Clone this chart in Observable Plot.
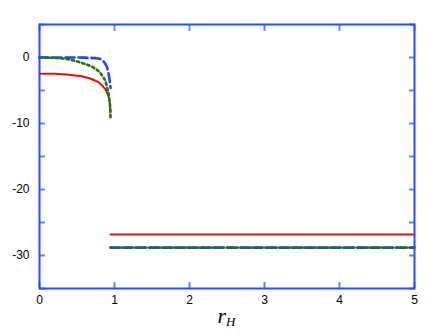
<!DOCTYPE html>
<html>
<head>
<meta charset="utf-8">
<script src="https://cdn.jsdelivr.net/npm/d3@7"></script>
<script src="https://cdn.jsdelivr.net/npm/@observablehq/plot@0.6"></script>
<style>
  html, body { margin: 0; padding: 0; background: #fff; }
</style>
</head>
<body>
<div id="chart"></div>
<script>
// near-horizon branch (r_H < ~0.95)
const rCurve = [0, 0.1, 0.2, 0.3, 0.4, 0.5, 0.6, 0.7, 0.75, 0.8, 0.85, 0.88, 0.9, 0.92, 0.93, 0.94, 0.947];
const redCurve = [-2.45, -2.46, -2.48, -2.52, -2.6, -2.75, -2.95, -3.3, -3.55, -3.85, -4.45, -4.85, -5.3, -5.9, -6.4, -7.2, -8.3];
const blueCurve = [0, 0, 0, 0, 0, 0, -0.02, -0.06, -0.1, -0.18, -0.55, -1.0, -1.5, -2.4, -3.1, -3.9, -4.6];
const greenCurve = [0, -0.02, -0.06, -0.15, -0.3, -0.6, -0.95, -1.4, -1.75, -2.2, -3.0, -3.6, -4.5, -5.4, -6.2, -7.3, -9.1];
// large r_H branch (constant)
const rFlat = [0.947, 5];
const redFlat = [-26.8, -26.8];
const blueFlat = [-28.8, -28.8];
const greenFlat = [-28.8, -28.8];
// ticks
const xTicks = [0, 1, 2, 3, 4, 5];
const yTickMarks = [-35, -30, -25, -20, -15, -10, -5, 0, 5];
const yTickLabels = [-30, -20, -10, 0];

const AX = "#2b4cff";
const RED = "#e01010";
const BLUE = "#1f46ff";
const GREEN = "#2a6e12";

const mk = (xs, ys) => xs.map((x, i) => ({x, y: ys[i]}));
const fmt = d => String(d);

const plot = Plot.plot({
  width: 437,
  height: 336,
  marginLeft: 39,
  marginRight: 23,
  marginTop: 24,
  marginBottom: 48,
  style: {fontFamily: "'Liberation Sans', Arial, sans-serif", fontSize: "12px", color: "#000", background: "#fff"},
  x: {domain: [0, 5], label: null},
  y: {domain: [-35, 5], label: null},
  marks: [
    // blue dashed
    Plot.line(mk(rCurve, blueCurve), {x: "x", y: "y", stroke: BLUE, strokeWidth: 2.6, strokeDasharray: "9,4", curve: "monotone-x"}),
    Plot.line(mk(rFlat, blueFlat), {x: "x", y: "y", stroke: BLUE, strokeWidth: 2.6, strokeDasharray: "9,4"}),
    // red solid
    Plot.line(mk(rCurve, redCurve), {x: "x", y: "y", stroke: RED, strokeWidth: 2, curve: "monotone-x"}),
    Plot.line(mk(rFlat, redFlat), {x: "x", y: "y", stroke: RED, strokeWidth: 2}),
    // green dotted / dash-dot
    Plot.line(mk(rCurve, greenCurve), {x: "x", y: "y", stroke: GREEN, strokeWidth: 2.6, strokeDasharray: "2.4,3", curve: "monotone-x"}),
    Plot.line(mk(rFlat, greenFlat), {x: "x", y: "y", stroke: GREEN, strokeWidth: 2.4, strokeDasharray: "7,2.5,2.5,2.5"}),
    // frame
    Plot.frame({stroke: AX, strokeWidth: 2}),
    // inward ticks
    Plot.axisX(xTicks, {anchor: "bottom", tickSize: 6, dy: -6, fill: "none", stroke: AX, strokeWidth: 2, strokeOpacity: 0.7}),
    Plot.axisX(xTicks, {anchor: "top", tickSize: 6, dy: 6, fill: "none", stroke: AX, strokeWidth: 2, strokeOpacity: 0.7}),
    Plot.axisY(yTickMarks, {anchor: "left", tickSize: 6, dx: 6, fill: "none", stroke: AX, strokeWidth: 2, strokeOpacity: 0.7}),
    Plot.axisY(yTickMarks, {anchor: "right", tickSize: 6, dx: -6, fill: "none", stroke: AX, strokeWidth: 2, strokeOpacity: 0.7}),
    // labels
    Plot.axisX(xTicks, {anchor: "bottom", tickSize: 0, tickPadding: 7, fill: "#000", label: null, tickFormat: fmt}),
    Plot.axisY(yTickLabels, {anchor: "left", tickSize: 0, tickPadding: 10, fill: "#000", label: null, tickFormat: fmt})
  ]
});

document.getElementById("chart").appendChild(plot);

// axis title r_H (italic serif with subscript)
const svg = d3.select(plot);
const t = svg.append("text")
  .attr("x", 226.5)
  .attr("y", 323)
  .attr("text-anchor", "middle")
  .attr("font-family", "'Liberation Serif', 'DejaVu Serif', serif")
  .attr("font-style", "italic")
  .attr("fill", "#000");
t.append("tspan").attr("font-size", "22px").text("r");
t.append("tspan").attr("font-size", "13px").attr("dy", "3").text("H");
</script>
</body>
</html>
